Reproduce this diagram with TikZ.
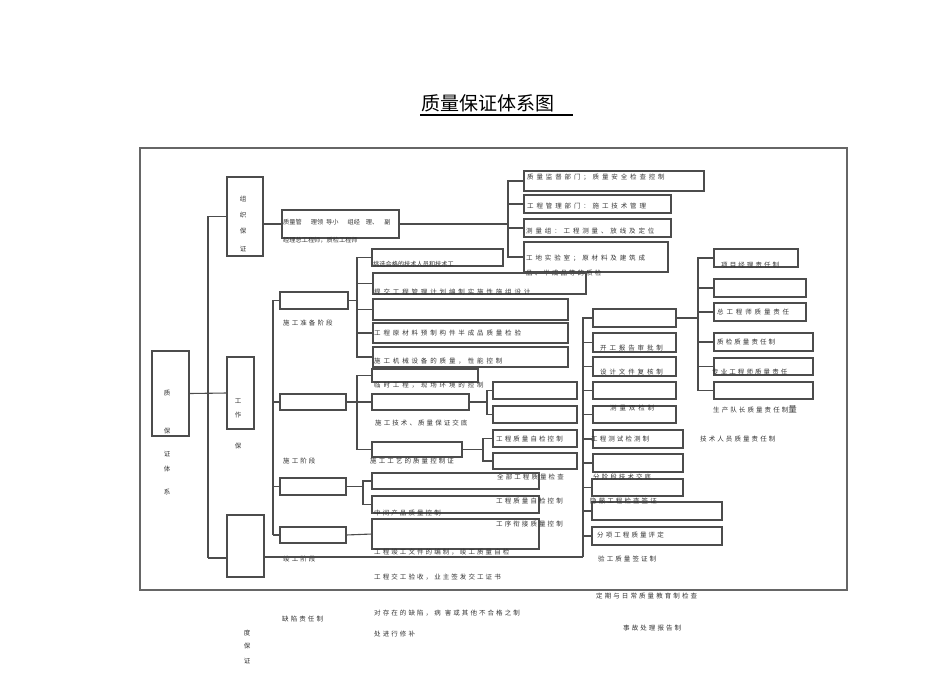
\documentclass[tikz,border=0pt]{standalone}
\usepackage{fontspec}
\setmainfont{Noto Sans CJK SC}
\newfontfamily\cjktight{Noto Sans CJK SC}
\newfontfamily\cjkmid[LetterSpace=32]{Noto Sans CJK SC}
\newfontfamily\cjkwide[LetterSpace=44]{Noto Sans CJK SC}
\tikzset{
    box/.style = {rectangle, draw=black!70, line width=1.2pt, inner sep=0pt, outer sep=0pt, anchor=north west},
    link/.style = {draw=black!70, line width=1.1pt},
    frame/.style = {draw=black!60, line width=1.2pt},
    txt/.style = {inner sep=0pt, anchor=west, text=black!80, font=\cjkmid\fontsize{6.5}{7}\selectfont},
    txtw/.style = {txt, font=\cjkwide\fontsize{6.5}{7}\selectfont},
    txtt/.style = {txt, font=\cjktight\fontsize{6.2}{7}\selectfont},
    vtxt/.style = {inner sep=0pt, text=black!80, font=\cjktight\fontsize{6.5}{7}\selectfont}
}
\begin{document}
\begin{tikzpicture}[x=1pt, y=-1pt]
\useasboundingbox (0,0) rectangle (950,673);
%
\node[inner sep=0pt, font=\cjktight\fontsize{19}{20}\selectfont] at (488,103) (title) {质量保证体系图};
\draw[line width=2.4pt] (420,115) -- (573,115);
\draw[frame] (140,148) rectangle (847,590);
%
% left column
\node[box, minimum width=37pt, minimum height=85pt] at (152,351) (zb) {};
\node[box, minimum width=36pt, minimum height=79pt] at (227,177) (zz) {};
\node[box, minimum width=27pt, minimum height=72pt] at (227,357) (gz) {};
\node[box, minimum width=37pt, minimum height=62pt] at (227,515) (dz) {};
\foreach \c/\y in {质/393,保/431,证/454,体/469,系/492} \node[vtxt] at (167,\y) (zb\y) {\c};
\foreach \c/\y in {组/199,织/215,保/231,证/249} \node[vtxt] at (243,\y) (zz\y) {\c};
\foreach \c/\y in {工/401,作/415,保/446} \node[vtxt] at (238,\y) (gz\y) {\c};
\foreach \c/\y in {度/633,保/646,证/661} \node[vtxt] at (247,\y) (dz\y) {\c};
%
% organisation
\node[box, minimum width=117pt, minimum height=28pt] at (282,210) (zl) {};
\node[box, minimum width=180pt, minimum height=20pt] at (524,171) (o1) {};
\node[box, minimum width=147pt, minimum height=18pt] at (524,195) (o2) {};
\node[box, minimum width=147pt, minimum height=18pt] at (524,219) (o3) {};
\node[box, minimum width=144pt, minimum height=30pt] at (524,242) (o4) {};
\node[txtt] at (283,222) (zlt) {质量管\hspace{9pt}理领\hspace{3pt}导小\hspace{9pt}组经\hspace{6pt}理、\hspace{6pt}副};
\node[txtt] at (283,240) (zlt2) {经理总工程师，质检工程师};
\node[txtw] at (527,177) (o1t) {质量监督部门；质量安全检查控制};
\node[txtw] at (527,206) (o2t) {工程管理部门：施工技术管理};
\node[txtw] at (526,231) (o3t) {测量组：工程测量、放线及定位};
\node[txtw] at (526,258) (o4t) {工地实验室；原材料及建筑成};
\node[txt] at (526,273) (o4t2) {品、半成品等的质检};
%
% stages
\node[box, minimum width=68pt, minimum height=17pt] at (280,292) (s1) {};
\node[box, minimum width=66pt, minimum height=16pt] at (280,394) (s2) {};
\node[box, minimum width=66pt, minimum height=17pt] at (280,478) (s3) {};
\node[box, minimum width=66pt, minimum height=16pt] at (280,527) (s4) {};
\node[txt] at (283,323) (s1t) {施工准备阶段};
\node[txt] at (283,461) (s2t) {施工阶段};
\node[txt] at (283,559) (s4t) {竣工阶段};
\node[txt] at (282,619) (dzt) {缺陷责任制};
%
% preparation
\node[box, minimum width=131pt, minimum height=17pt] at (372,249) (p1) {};
\node[box, minimum width=213pt, minimum height=21pt] at (373,273) (p2) {};
\node[box, minimum width=195pt, minimum height=21pt] at (373,299) (p3) {};
\node[box, minimum width=195pt, minimum height=20pt] at (373,323) (p4) {};
\node[box, minimum width=195pt, minimum height=20pt] at (373,347) (p5) {};
\node[box, minimum width=106pt, minimum height=13pt] at (372,369) (p6) {};
\node[txtt] at (373,264) (p1t) {挑选合格的技术人员和技术工};
\node[txtw] at (374,292) (p2t) {提交工程管理计划编制实施性施组设计};
\node[txtw] at (374,333) (p4t) {工程原材料预制构件半成品质量检验};
\node[txtw] at (374,361) (p5t) {施工机械设备的质量，性能控制};
\node[txtw] at (374,385) (p6t) {临时工程，现场环境的控制};
%
% construction
\node[box, minimum width=97pt, minimum height=16pt] at (372,394) (c2) {};
\node[box, minimum width=84pt, minimum height=17pt] at (493,382) (c2a) {};
\node[box, minimum width=84pt, minimum height=17pt] at (493,406) (c2b) {};
\node[box, minimum width=90pt, minimum height=15pt] at (372,442) (c3) {};
\node[box, minimum width=84pt, minimum height=17pt] at (493,430) (c3a) {};
\node[box, minimum width=84pt, minimum height=16pt] at (493,453) (c3b) {};
\node[box, minimum width=167pt, minimum height=16pt] at (372,473) (t1) {};
\node[box, minimum width=167pt, minimum height=17pt] at (372,496) (t2) {};
\node[box, minimum width=167pt, minimum height=30pt] at (372,519) (t3) {};
\node[txt] at (375,423) (c2t) {施工技术、质量保证交底};
\node[txt] at (370,461) (c3t) {施工工艺的质量控制证};
\node[txt] at (496,439) (c3at) {工程质量自检控制};
\node[txt] at (497,477) (c3bt) {全部工程质量检查};
\node[txt] at (496,501) (t2t) {工程质量自检控制};
\node[txt] at (374,513) (t2t2) {中间产品质量控制};
\node[txt] at (496,524) (t3t) {工序衔接质量控制};
\node[txt] at (374,552) (t3t2) {工程竣工文件的编制，竣工质量自检};
\node[txt] at (374,577) (t3t3) {工程交工验收，业主签发交工证书};
\node[txt] at (374,613) (qx1) {对存在的缺陷，病\hspace{4pt}害或其他不合格之制};
\node[txt] at (374,634) (qx2) {处进行修补};
%
% middle column
\node[box, minimum width=83pt, minimum height=18pt] at (593,309) (mA) {};
\node[box, minimum width=83pt, minimum height=19pt] at (593,333) (mB) {};
\node[box, minimum width=83pt, minimum height=19pt] at (593,357) (mC) {};
\node[box, minimum width=83pt, minimum height=17pt] at (593,382) (mD) {};
\node[box, minimum width=83pt, minimum height=17pt] at (593,406) (mE) {};
\node[box, minimum width=90pt, minimum height=18pt] at (593,430) (mF) {};
\node[box, minimum width=90pt, minimum height=18pt] at (593,454) (mG) {};
\node[box, minimum width=91pt, minimum height=17pt] at (592,479) (mH) {};
\node[box, minimum width=130pt, minimum height=18pt] at (592,502) (mI) {};
\node[box, minimum width=130pt, minimum height=18pt] at (592,527) (mJ) {};
\node[txtw] at (600,348) (mBt) {开工报告审批制};
\node[txtw] at (600,372) (mCt) {设计文件复核制};
\node[txtw] at (610,408) (mEt) {测量双检制};
\node[txt] at (591,439) (mFt) {工程测试检测制};
\node[txt] at (593,477) (mGt) {分阶段技术交底};
\node[txt] at (590,501) (mHt) {隐蔽工程检查签证};
\node[txt] at (597,535) (mJt) {分项工程质量评定};
\node[txt] at (598,559) (mt) {验工质量签证制};
\node[txt] at (596,596) (jy) {定期与日常质量教育制检查};
\node[txt] at (623,628) (sg) {事故处理报告制};
%
% right column
\node[box, minimum width=84pt, minimum height=18pt] at (714,249) (r1) {};
\node[box, minimum width=92pt, minimum height=18pt] at (714,279) (r2) {};
\node[box, minimum width=92pt, minimum height=18pt] at (714,303) (r3) {};
\node[box, minimum width=99pt, minimum height=18pt] at (714,333) (r4) {};
\node[box, minimum width=99pt, minimum height=17pt] at (714,358) (r5) {};
\node[box, minimum width=99pt, minimum height=17pt] at (714,382) (r6) {};
\node[txt] at (721,265) (r1t) {项目经理责任制};
\node[txtw] at (717,312) (r3t) {总工程师质量责任};
\node[txt] at (717,342) (r4t) {质检质量责任制};
\node[txt] at (712,372) (r5t) {专业工程师质量责任};
\node[txt] at (713,409) (r6t) {生产队长质量责任制{\fontsize{8.5}{9}\selectfont 量}};
\node[txt] at (700,439) (rj) {技术人员质量责任制};
%
% bus points
\coordinate (trunk) at (208,558);
\coordinate (obus) at (508,224);
\coordinate (sbus) at (273,535);
\coordinate (pbus) at (357,300.5);
\coordinate (cbus) at (357,402);
\coordinate (c2bus) at (487,402);
\coordinate (c3bus) at (483,449.5);
\coordinate (tbus) at (363,486.5);
\coordinate (mbus) at (583,557);
\coordinate (rbus) at (698,318);
%
\draw[link] (zb.east) -- (gz.west);
\draw[link] (zz.west) -| (trunk);
\draw[link] (dz.west |- trunk) -- (trunk);
\draw[link] (zz.east |- zl.west) -- (zl.west);
\draw[link] (zl.east) -- (obus);
\foreach \b in {o1,o2,o3,o4} \draw[link] (\b.west) -| (obus);
\foreach \b in {s1,s2,s3,s4} \draw[link] (\b.west) -| (sbus);
\draw[link] (s1.east) -- (pbus);
\foreach \b in {p1,p2,p3,p4,p5} \draw[link] (\b.west) -| (pbus);
\draw[link] (s2.east) -- (cbus);
\foreach \b in {p6,c2,c3} \draw[link] (\b.west) -| (cbus);
\draw[link] (c2.east) -- (c2bus);
\foreach \b in {c2a,c2b} \draw[link] (\b.west) -| (c2bus);
\draw[link] (c3.east) -- (c3bus);
\foreach \b in {c3a,c3b} \draw[link] (\b.west) -| (c3bus);
\draw[link] (s3.east) -- (tbus);
\foreach \b in {t1,t2} \draw[link] (\b.west) -| (tbus);
\draw[link] (s4.east) -- (t3.west);
\draw[link] (dz.east |- mbus) -- (mbus);
\foreach \b in {mA,mB,mC,mD,mE,mF,mG,mH,mI,mJ} \draw[link] (\b.west) -| (mbus);
\draw[link] (mA.east) -- (rbus);
\foreach \b in {r1,r2,r3,r4,r5,r6} \draw[link] (\b.west) -| (rbus);

\end{tikzpicture}
\end{document}
